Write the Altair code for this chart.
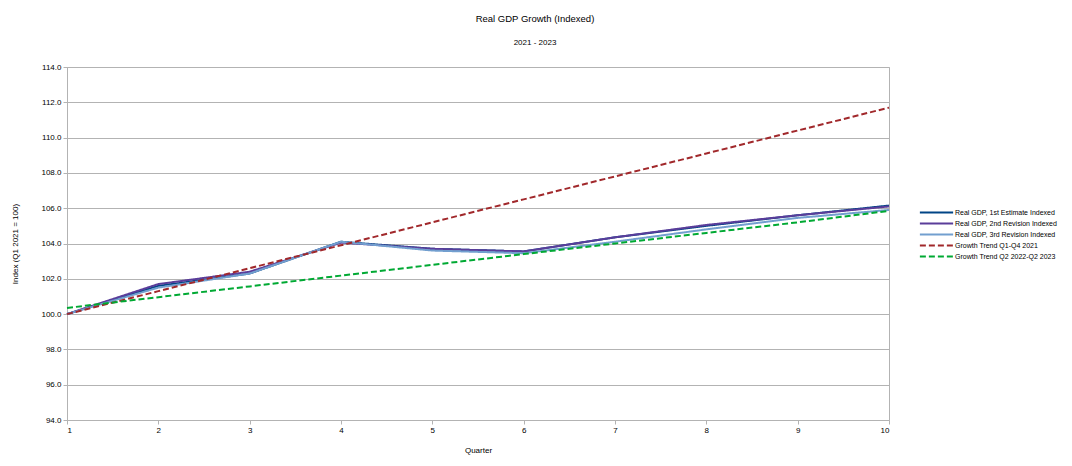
import altair as alt
import pandas as pd

quarters = [1, 2, 3, 4, 5, 6, 7, 8, 9, 10]
est1 = [100.0, 101.6, 102.3, 104.1, 103.7, 103.55, 104.35, 105.0, 105.6, 106.15]
rev2 = [100.0, 101.7, 102.4, 104.05, 103.7, 103.55, 104.35, 105.05, 105.6, 106.1]
rev3 = [100.0, 101.5, 102.3, 104.1, 103.6, 103.45, 104.1, 104.8, 105.45, 105.9]
trend_2021 = [100.0, 101.3, 102.6, 103.9, 105.2, 106.5, 107.8, 109.1, 110.4, 111.7]
trend_2022 = [100.35, 100.96, 101.57, 102.18, 102.79, 103.4, 104.0, 104.6, 105.2, 105.85]

names = [
    "Real GDP, 1st Estimate Indexed",
    "Real GDP, 2nd Revision Indexed",
    "Real GDP, 3rd Revision Indexed",
    "Growth Trend Q1-Q4 2021",
    "Growth Trend Q2 2022-Q2 2023",
]
colors = ["#004586", "#5a3d9a", "#729fcf", "#a1282b", "#00a933"]
dashes = [[1, 0], [1, 0], [1, 0], [6, 3], [6, 3]]

rows = []
for i, (n, vals) in enumerate(zip(names, [est1, rev2, rev3, trend_2021, trend_2022])):
    for q, v in zip(quarters, vals):
        rows.append({"Quarter": q, "Index": v, "Series": n, "order": i})
df = pd.DataFrame(rows)

FONT = "Liberation Sans"

chart = alt.Chart(df).mark_line(strokeWidth=2).encode(
    x=alt.X("Quarter:Q", scale=alt.Scale(domain=[1, 10], nice=False),
            axis=alt.Axis(values=quarters, format="d", grid=False, title="Quarter",
                          titleFontSize=8, titleFontWeight="normal", titlePadding=12,
                          labelFontSize=8, tickSize=4, domain=False, tickColor="#b3b3b3",
                          labelColor="#000", titleColor="#000", labelPadding=2)),
    y=alt.Y("Index:Q", scale=alt.Scale(domain=[94, 114], nice=False, zero=False),
            axis=alt.Axis(values=list(range(94, 115, 2)), format=".1f",
                          title="Index (Q1 2021 = 100)", titleFontSize=8,
                          titleFontWeight="normal", titlePadding=21, labelFontSize=8,
                          tickSize=4, domainColor="#b3b3b3", tickColor="#b3b3b3",
                          gridColor="#b3b3b3", labelColor="#000", titleColor="#000",
                          labelPadding=2)),
    color=alt.Color("Series:N", sort=names,
                    scale=alt.Scale(domain=names, range=colors),
                    legend=alt.Legend(title=None, orient="none", legendX=863, legendY=139,
                                      symbolType="M-3.1,0H3.1", symbolSize=115,
                                      symbolStrokeWidth=2, labelFontSize=7,
                                      rowPadding=0, labelOffset=12, labelLimit=300)),
    strokeDash=alt.StrokeDash("Series:N", sort=names,
                              scale=alt.Scale(domain=names, range=dashes), legend=None),
    order="order:O",
).properties(
    width=822,
    height=353,
    title=alt.TitleParams(text="Real GDP Growth (Indexed)", subtitle="2021 - 2023",
                          fontSize=9.5, subtitleFontSize=8, fontWeight="normal",
                          subtitlePadding=16, anchor="middle", dx=57, offset=16,
                          color="#000", subtitleColor="#000"),
    autosize=alt.AutoSizeParams(type="none"),
    padding={"left": 59, "top": 59, "right": 175, "bottom": 38},
).configure(font=FONT).configure_view(stroke="#b3b3b3", strokeWidth=1)

chart.save("out.html", embed_options={"renderer": "svg", "actions": False})
